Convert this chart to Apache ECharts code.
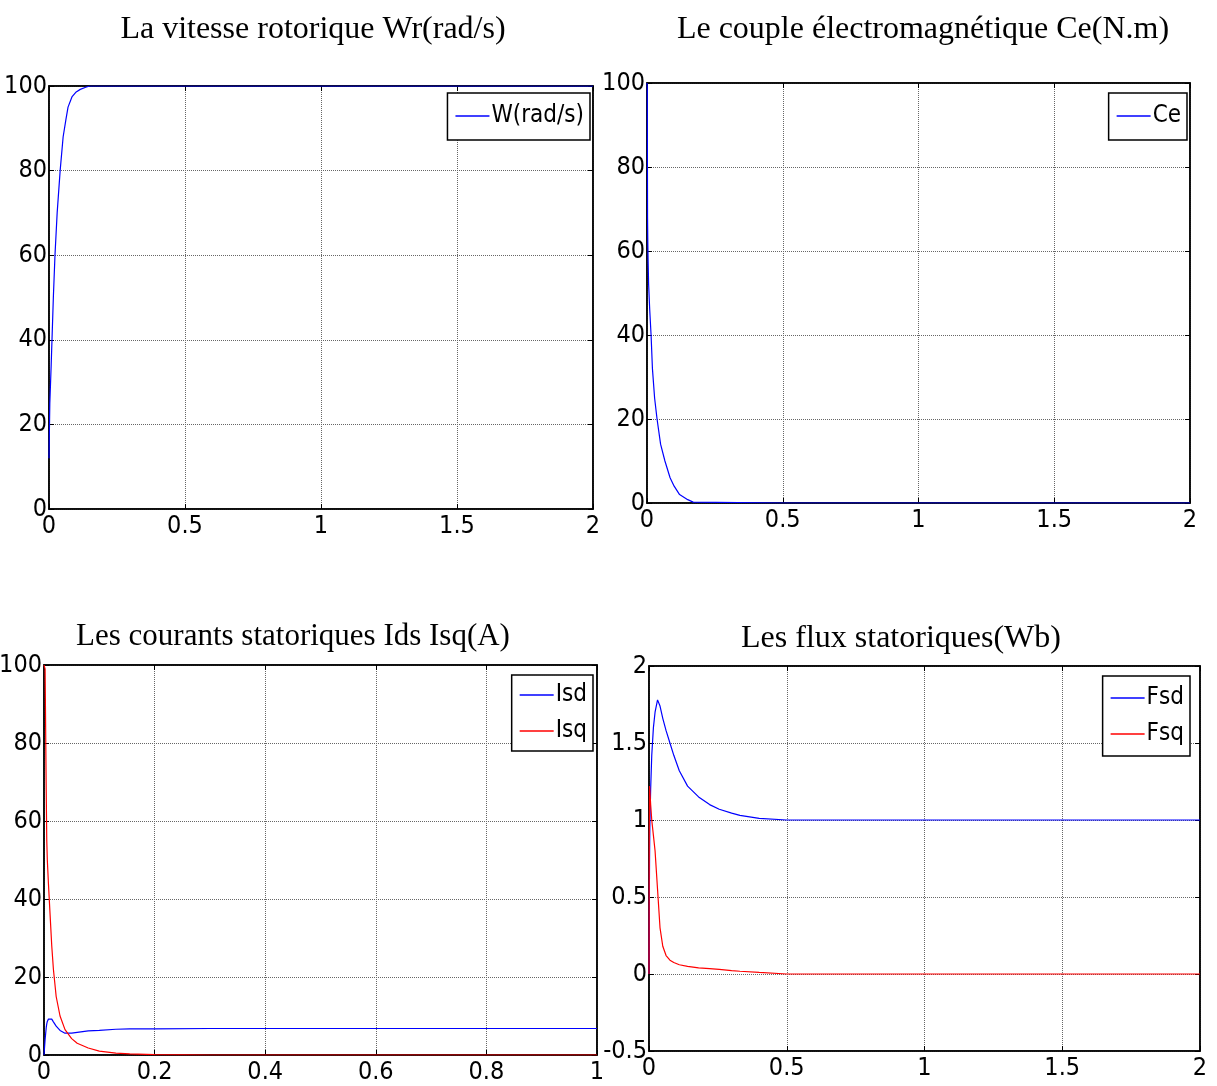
<!DOCTYPE html>
<html>
<head>
<meta charset="utf-8">
<script src="https://cdn.jsdelivr.net/npm/echarts@6/dist/echarts.min.js"></script>
<style>
  html, body { margin: 0; padding: 0; background: #fff; }
  #main { width: 1217px; height: 1086px; }
</style>
</head>
<body>
<div id="main"></div>
<script>
// vitesse rotorique W (rad/s)
var wrT = [0, 0.003, 0.008, 0.011, 0.016, 0.022, 0.03, 0.041, 0.052, 0.062, 0.07, 0.085, 0.1, 0.115, 0.135, 0.15, 0.5, 1, 1.5, 2];
var wrV = [12, 25, 34, 40, 50, 60, 70, 80, 88, 92, 95, 97.5, 98.6, 99.2, 99.7, 100, 100, 100, 100, 100];

// couple Ce (N.m)
var ceT = [0, 0.001, 0.002, 0.003, 0.004, 0.006, 0.01, 0.015, 0.02, 0.028, 0.037, 0.05, 0.066, 0.085, 0.1, 0.12, 0.15, 0.17, 0.5, 1, 1.5, 2];
var ceV = [100, 99, 68, 62, 58, 52, 46, 40, 32, 25, 20, 14, 10, 6, 4, 2, 0.8, 0.2, 0, 0, 0, 0];

// courants statoriques (A), t de 0 a 1
var isT = [0, 0.002, 0.004, 0.005, 0.006, 0.008, 0.011, 0.014, 0.017, 0.022, 0.029, 0.038, 0.05, 0.06, 0.08, 0.1, 0.13, 0.155, 0.2, 0.3, 0.4, 0.6, 0.8, 1];
var isdV = [0, 4, 7, 8, 8.6, 9.2, 9.6, 9.2, 8.5, 7.4, 6.3, 5.6, 5.6, 5.8, 6.2, 6.3, 6.6, 6.7, 6.7, 6.8, 6.8, 6.8, 6.8, 6.8];
var isqV = [100, 99, 68, 55, 50, 44, 36, 28, 22, 15, 10, 6.5, 4.2, 3, 1.8, 1, 0.5, 0.3, 0.1, 0, 0, 0, 0, 0];

// flux statoriques (Wb)
var fsT = [0, 0.001, 0.002, 0.003, 0.006, 0.01, 0.016, 0.022, 0.031, 0.04, 0.05, 0.062, 0.076, 0.09, 0.11, 0.14, 0.18, 0.22, 0.255, 0.3, 0.33, 0.4, 0.5, 1, 1.5, 2];
var fsdV = [0, 0.42, 0.75, 0.95, 1.2, 1.42, 1.6, 1.7, 1.78, 1.74, 1.66, 1.58, 1.5, 1.42, 1.32, 1.22, 1.15, 1.1, 1.07, 1.045, 1.03, 1.01, 1.0, 1.0, 1.0, 1.0];
var fsqV = [0, 0.9, 1.22, 1.2, 1.1, 1.0, 0.9, 0.8, 0.55, 0.3, 0.18, 0.12, 0.09, 0.075, 0.06, 0.05, 0.04, 0.035, 0.03, 0.022, 0.018, 0.01, 0, 0, 0, 0];

function pairs(t, v) {
  return t.map(function (x, i) { return [x, v[i]]; });
}

var labelFont = "'DejaVu Sans Condensed', 'Liberation Sans Narrow', 'Liberation Sans', sans-serif";
var titleFont = "'Liberation Serif', 'DejaVu Serif', serif";

var grids = [
  { left: 49, top: 86, width: 544, height: 423 },
  { left: 647, top: 83, width: 543, height: 420 },
  { left: 44, top: 665, width: 553, height: 390 },
  { left: 649, top: 666, width: 551, height: 385 }
];
var xRanges = [[0, 2, 0.5], [0, 2, 0.5], [0, 1, 0.2], [0, 2, 0.5]];
var yRanges = [[0, 100, 20], [0, 100, 20], [0, 100, 20], [-0.5, 2, 0.5]];

var xAxes = [], yAxes = [];
grids.forEach(function (g, i) {
  g.show = true;
  g.borderColor = "#000";
  g.borderWidth = 1.5;
  g.backgroundColor = "#fff";
  g.containLabel = false;
  g.outerBoundsMode = "none";
  // bas / gauche avec labels
  xAxes.push({
    type: "value", gridIndex: i, min: xRanges[i][0], max: xRanges[i][1], interval: xRanges[i][2],
    axisLine: { show: true, onZero: false, lineStyle: { color: "#000", width: 1.5 } },
    axisTick: { show: true, inside: true, length: 5, lineStyle: { color: "#000" } },
    axisLabel: { color: "#000", fontFamily: labelFont, fontSize: 25, margin: 5 },
    splitLine: { show: true, lineStyle: { color: "#666", type: "dotted", width: 1 } }
  });
  yAxes.push({
    type: "value", gridIndex: i, min: yRanges[i][0], max: yRanges[i][1], interval: yRanges[i][2],
    axisLine: { show: true, onZero: false, lineStyle: { color: "#000", width: 1.5 } },
    axisTick: { show: true, inside: true, length: 5, lineStyle: { color: "#000" } },
    axisLabel: { color: "#000", fontFamily: labelFont, fontSize: 25, margin: 2 },
    splitLine: { show: true, lineStyle: { color: "#666", type: "dotted", width: 1 } }
  });
});
// ticks en haut / a droite
grids.forEach(function (g, i) {
  xAxes.push({
    type: "value", gridIndex: i, position: "top", min: xRanges[i][0], max: xRanges[i][1], interval: xRanges[i][2],
    axisLine: { show: true, onZero: false, lineStyle: { color: "#000", width: 1.5 } },
    axisTick: { show: true, inside: true, length: 5, lineStyle: { color: "#000" } },
    axisLabel: { show: false }, splitLine: { show: false }
  });
  yAxes.push({
    type: "value", gridIndex: i, position: "right", min: yRanges[i][0], max: yRanges[i][1], interval: yRanges[i][2],
    axisLine: { show: true, onZero: false, lineStyle: { color: "#000", width: 1.5 } },
    axisTick: { show: true, inside: true, length: 5, lineStyle: { color: "#000" } },
    axisLabel: { show: false }, splitLine: { show: false }
  });
});

function line(name, idx, data, color) {
  return {
    name: name, type: "line", xAxisIndex: idx, yAxisIndex: idx, data: data,
    showSymbol: false, symbol: "none", animation: false,
    lineStyle: { color: color, width: 1.2 }, itemStyle: { color: color }
  };
}

function legendBox(names, right, top, pad) {
  return {
    data: names, orient: "vertical", right: right, top: top,
    backgroundColor: "#fff", borderColor: "#000", borderWidth: 1.5,
    padding: pad, itemGap: 12,
    icon: "rect", itemWidth: 34, itemHeight: 1.5,
    textStyle: { color: "#000", fontFamily: labelFont, fontSize: 24, padding: [0, 0, 0, -3] },
    selectedMode: false
  };
}

var myChart = echarts.init(document.getElementById("main"));
myChart.setOption({
  backgroundColor: "#fff",
  animation: false,
  title: [
    { text: "La vitesse rotorique Wr(rad/s)", left: 308, top: 9, textAlign: "center", size: 32 },
    { text: "Le couple électromagnétique Ce(N.m)", left: 918, top: 9, textAlign: "center", size: 32 },
    { text: "Les courants statoriques Ids Isq(A)", left: 288, top: 616, textAlign: "center", size: 31 },
    { text: "Les flux statoriques(Wb)", left: 896, top: 618, textAlign: "center", size: 32 }
  ].map(function (t) {
    t.textStyle = { fontFamily: titleFont, fontSize: t.size, fontWeight: "normal", color: "#000" };
    delete t.size;
    return t;
  }),
  legend: [
    legendBox(["W(rad/s)"], 1217 - 590, 93, [11, 6, 12, 8]),
    legendBox(["Ce"], 1217 - 1187, 93, [11, 6, 12, 8]),
    legendBox(["Isd", "Isq"], 1217 - 593, 675, [8, 6, 8, 8]),
    legendBox(["Fsd", "Fsq"], 1217 - 1190, 676, [10, 6, 10, 8])
  ],
  grid: grids,
  xAxis: xAxes,
  yAxis: yAxes,
  series: [
    line("W(rad/s)", 0, pairs(wrT, wrV), "#0000ff"),
    line("Ce", 1, pairs(ceT, ceV), "#0000ff"),
    line("Isd", 2, pairs(isT, isdV), "#0000ff"),
    line("Isq", 2, pairs(isT, isqV), "#ff0000"),
    line("Fsd", 3, pairs(fsT, fsdV), "#0000ff"),
    line("Fsq", 3, pairs(fsT, fsqV), "#ff0000")
  ]
});
</script>
</body>
</html>
